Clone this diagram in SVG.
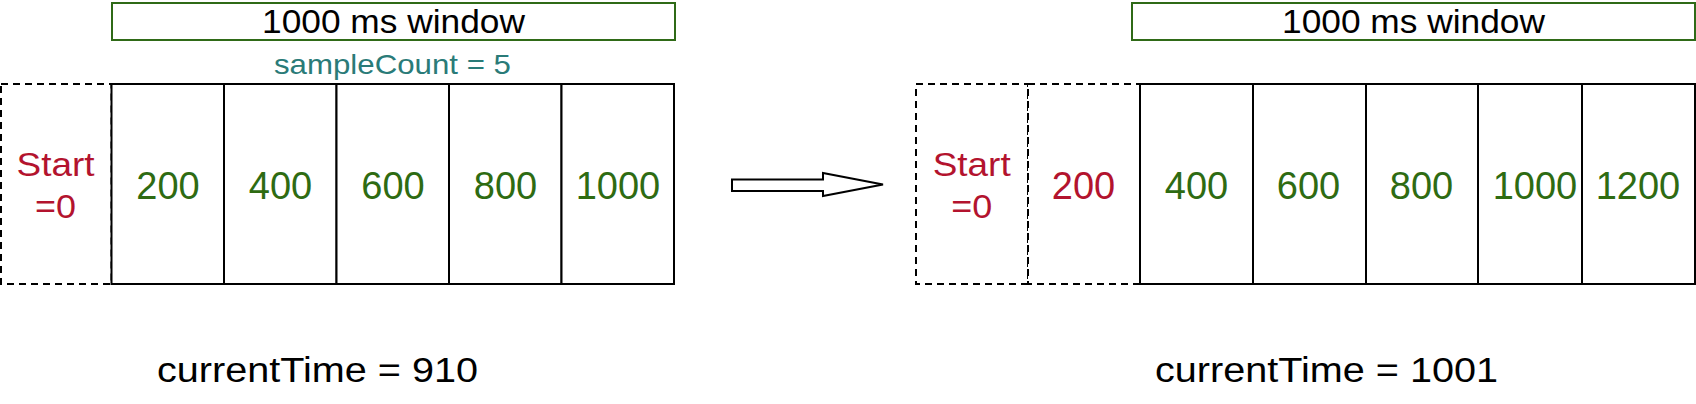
<svg xmlns="http://www.w3.org/2000/svg" width="1696" height="404" viewBox="0 0 1696 404">
<style>
.win{fill:#fff;stroke:#2f6a17;stroke-width:2}
.cell{fill:#fff;stroke:#000;stroke-width:2}
.dash{fill:#fff;stroke:#000;stroke-width:2;stroke-dasharray:7 5}
.t{font-family:"Liberation Sans",Arial,sans-serif;text-anchor:middle}
.wt{font-size:34px;fill:#000}
.sc{font-size:28px;fill:#2a7b78}
.red{font-size:34px;fill:#b3132e}
.num{font-size:38px;fill:#2e6b12}
.numr{font-size:38px;fill:#b3132e}
.ct{font-size:35px;fill:#000;text-anchor:start}
</style>
<rect width="1696" height="404" fill="#fff"/>

<!-- Left diagram -->
<g id="left-window">
<rect class="win" x="112" y="3" width="563" height="37"/>
<text class="t wt" x="393.5" y="33" textLength="263" lengthAdjust="spacingAndGlyphs">1000 ms window</text>
</g>
<g id="left-samplecount">
<text class="t sc" x="392.5" y="74" textLength="237" lengthAdjust="spacingAndGlyphs">sampleCount = 5</text>
</g>
<g id="left-start">
<rect class="dash" x="1" y="84" width="110.5" height="200"/>
<text class="t red" x="55.5" y="176" textLength="78" lengthAdjust="spacingAndGlyphs">Start</text>
<text class="t red" x="55.5" y="218" textLength="41" lengthAdjust="spacingAndGlyphs">=0</text>
</g>
<g id="left-200"><rect class="cell" x="111.5" y="84" width="112.5" height="200"/><text class="t num" x="168" y="199">200</text></g>
<g id="left-400"><rect class="cell" x="224" y="84" width="112.5" height="200"/><text class="t num" x="280.5" y="199">400</text></g>
<g id="left-600"><rect class="cell" x="336.5" y="84" width="112.5" height="200"/><text class="t num" x="393" y="199">600</text></g>
<g id="left-800"><rect class="cell" x="449" y="84" width="112.5" height="200"/><text class="t num" x="505.5" y="199">800</text></g>
<g id="left-1000"><rect class="cell" x="561.5" y="84" width="112.5" height="200"/><text class="t num" x="618" y="199">1000</text></g>
<g id="left-time">
<text class="t ct" x="157" y="382" textLength="321" lengthAdjust="spacingAndGlyphs">currentTime = 910</text>
</g>

<!-- Connector -->
<g id="connectors">
<polygon points="732,179.5 823,179.5 823,173 883,184.5 823,196 823,191 732,191" fill="#fff" stroke="#000" stroke-width="2" stroke-linejoin="miter"/>
</g>

<!-- Right diagram -->
<g id="right-window">
<rect class="win" x="1132" y="3" width="563" height="37"/>
<text class="t wt" x="1413.5" y="33" textLength="263" lengthAdjust="spacingAndGlyphs">1000 ms window</text>
</g>
<g id="right-start">
<rect class="dash" x="916" y="84" width="112" height="200"/>
<text class="t red" x="971.7" y="176" textLength="78" lengthAdjust="spacingAndGlyphs">Start</text>
<text class="t red" x="971.7" y="218" textLength="41" lengthAdjust="spacingAndGlyphs">=0</text>
</g>
<g id="right-200">
<rect class="dash" x="1028" y="84" width="112" height="200"/>
<text class="t numr" x="1083.5" y="199">200</text>
</g>
<g id="right-400"><rect class="cell" x="1140" y="84" width="113" height="200"/><text class="t num" x="1196.5" y="199">400</text></g>
<g id="right-600"><rect class="cell" x="1253" y="84" width="113" height="200"/><text class="t num" x="1308.5" y="199">600</text></g>
<g id="right-800"><rect class="cell" x="1366" y="84" width="112" height="200"/><text class="t num" x="1421.5" y="199">800</text></g>
<g id="right-1000"><rect class="cell" x="1478" y="84" width="104" height="200"/><text class="t num" x="1535" y="199">1000</text></g>
<g id="right-1200"><rect class="cell" x="1582" y="84" width="113" height="200"/><text class="t num" x="1638" y="199">1200</text></g>
<g id="right-time">
<text class="t ct" x="1155" y="382" textLength="343" lengthAdjust="spacingAndGlyphs">currentTime = 1001</text>
</g>
</svg>
